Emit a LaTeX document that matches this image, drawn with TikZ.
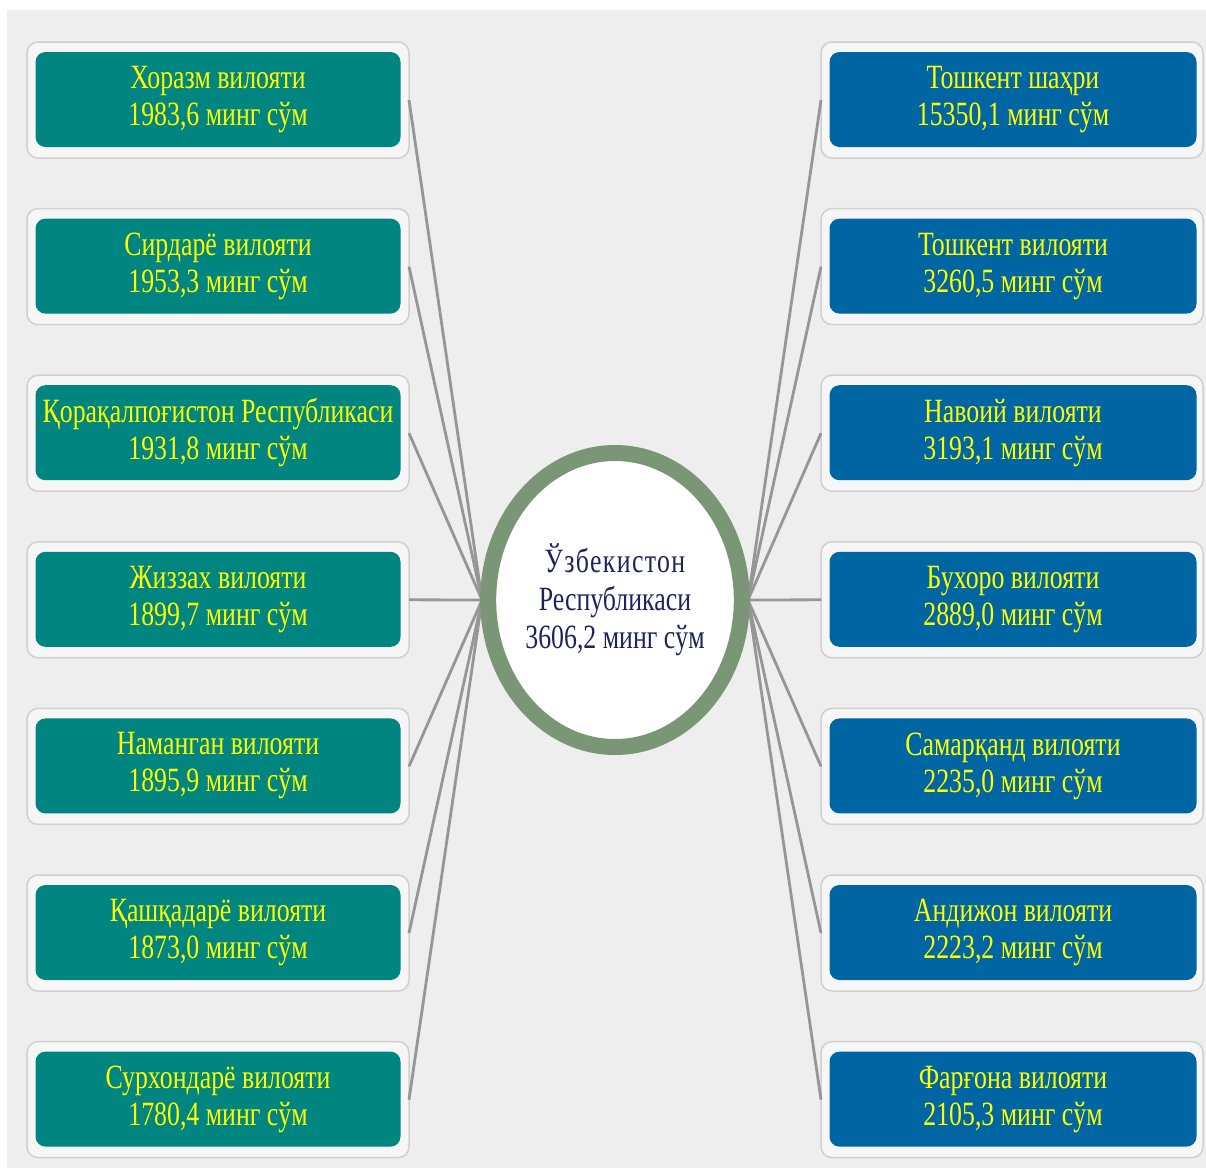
\documentclass[tikz,border=0pt]{standalone}
\usepackage{fontspec}
\setmainfont{Liberation Serif}
\newfontfamily\boxfont[FakeStretch=0.76]{Liberation Serif}
\usetikzlibrary{shapes.geometric}
\definecolor{bgc}{RGB}{238,238,238}
\definecolor{boxfill}{RGB}{246,246,246}
\definecolor{boxedge}{RGB}{208,208,208}
\definecolor{tealc}{RGB}{0,133,128}
\definecolor{bluec}{RGB}{0,102,163}
\definecolor{yel}{RGB}{255,255,0}
\definecolor{ringc}{RGB}{123,150,118}
\definecolor{navy}{RGB}{30,35,95}
\definecolor{linec}{RGB}{150,150,150}
\tikzset{
  outerbox/.style={draw=boxedge, line width=1.5pt, fill=boxfill, rounded corners=11pt,
    minimum width=382pt, minimum height=116pt, inner sep=0pt, outer sep=0pt},
  innerbox/.style={rounded corners=10pt, minimum width=365pt, minimum height=95pt,
    inner sep=0pt, text=yel, align=center, font=\boxfont\fontsize{34}{37}\selectfont},
  lbox/.style={innerbox, fill=tealc},
  rbox/.style={innerbox, fill=bluec, minimum width=367pt},
  conn/.style={draw=linec, line width=2.8pt},
  ring/.style={ellipse, draw=ringc, line width=16pt, fill=white, minimum width=250pt,
    minimum height=294pt, inner sep=0pt, text=navy, align=center,
    font=\boxfont\fontsize{34}{38}\selectfont}
}
\begin{document}
\begin{tikzpicture}[x=1pt,y=-1pt]
\useasboundingbox (0,0) rectangle (1206,1171);
\fill[bgc] (7,10) rectangle (1206,1168);
% left side
\foreach \i/\t in {0/{Хоразм вилояти\\1983,6 минг сўм},
                   1/{Сирдарё вилояти\\1953,3 минг сўм},
                   2/{Қорақалпоғистон Республикаси\\1931,8 минг сўм},
                   3/{Жиззах вилояти\\1899,7 минг сўм},
                   4/{Наманган вилояти\\1895,9 минг сўм},
                   5/{Қашқадарё вилояти\\1873,0 минг сўм},
                   6/{Сурхондарё вилояти\\1780,4 минг сўм}}{
  \node[outerbox] (LO\i) at (218,{100+166.6*\i}) {};
  \node[lbox] (L\i) at (218,{99.5+166.6*\i}) {\t};
}
\foreach \i/\t in {0/{Тошкент шаҳри\\15350,1 минг сўм},
                   1/{Тошкент вилояти\\3260,5 минг сўм},
                   2/{Навоий вилояти\\3193,1 минг сўм},
                   3/{Бухоро вилояти\\2889,0 минг сўм},
                   4/{Самарқанд вилояти\\2235,0 минг сўм},
                   5/{Андижон вилояти\\2223,2 минг сўм},
                   6/{Фарғона вилояти\\2105,3 минг сўм}}{
  \node[outerbox] (RO\i) at (1012,{100+166.6*\i}) {};
  \node[rbox] (R\i) at (1013,{99.5+166.6*\i}) {\t};
}
\coordinate (CW) at (482,600);
\coordinate (CE) at (748,600);
\foreach \i in {0,...,6}{
  \draw[conn] (LO\i.east) -- (CW);
  \draw[conn] (RO\i.west) -- (CE);
}
\node[ring] (C) at (615,600) {\addfontfeature{LetterSpace=4}Ўзбекистон\\Республикаси\\3606,2 минг сўм};
\end{tikzpicture}
\end{document}
